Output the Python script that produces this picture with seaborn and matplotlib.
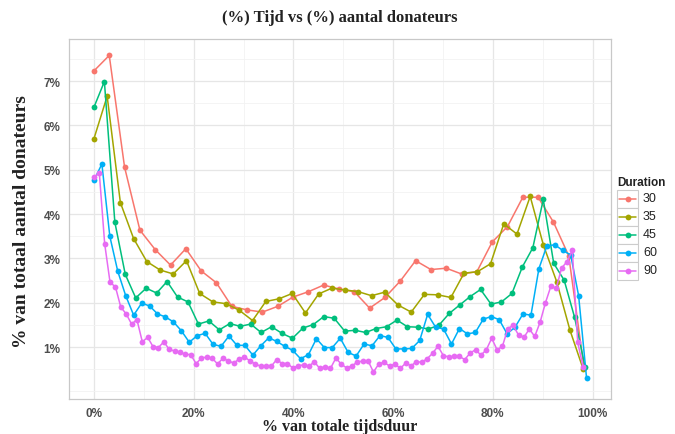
import numpy as np
import pandas as pd
import matplotlib
matplotlib.use("Agg")
import matplotlib.pyplot as plt
from matplotlib.ticker import FuncFormatter, MultipleLocator
from matplotlib.lines import Line2D
from matplotlib.patches import Rectangle
import seaborn as sns

# ---------------- data ----------------
durations = ["30", "35", "45", "60", "90"]
colors = ["#F8766D", "#A3A500", "#00BF7D", "#00B0F6", "#E76BF3"]

# last x position (% of total duration) of each series
x_end = {"30": 98.3, "35": 98.1, "45": 98.5, "60": 98.8, "90": 98.1}

pct_30 = [7.23, 7.58, 5.06, 3.64, 3.20, 2.85, 3.22, 2.72, 2.45, 1.92, 1.84,
          1.79, 1.92, 2.13, 2.25, 2.40, 2.31, 2.25, 1.88, 2.12, 2.49, 2.95,
          2.75, 2.78, 2.65, 2.70, 3.37, 3.72, 4.38, 4.38, 3.82, 3.06, 0.52]

pct_35 = [5.70, 6.66, 4.26, 3.45, 2.93, 2.74, 2.65, 2.95, 2.21, 2.02, 1.98,
          1.83, 1.60, 2.03, 2.09, 2.21, 1.77, 2.20, 2.33, 2.29, 2.25, 2.16,
          2.24, 1.95, 1.79, 2.19, 2.18, 2.12, 2.67, 2.70, 2.88, 3.78, 3.55,
          4.40, 3.30, 2.48, 1.39, 0.51]

pct_45 = [6.41, 6.99, 3.82, 2.64, 2.11, 2.33, 2.22, 2.48, 2.13, 2.02, 1.52,
          1.59, 1.39, 1.53, 1.47, 1.52, 1.33, 1.46, 1.31, 1.20, 1.43, 1.51,
          1.69, 1.65, 1.36, 1.38, 1.33, 1.42, 1.46, 1.61, 1.46, 1.45, 1.41,
          1.49, 1.76, 1.95, 2.14, 2.30, 1.97, 2.02, 2.21, 2.81, 3.24, 4.33,
          2.89, 2.51, 1.67, 0.56]

pct_60 = [4.76, 5.13, 3.50, 2.71, 2.16, 1.72, 1.99, 1.93, 1.75, 1.68, 1.57,
          1.37, 1.11, 1.26, 1.31, 1.06, 1.02, 1.25, 1.04, 1.04, 0.82, 1.03,
          1.21, 1.13, 1.02, 0.93, 0.74, 0.83, 1.19, 0.99, 0.99, 1.20, 0.88,
          0.80, 1.07, 1.03, 1.26, 1.22, 0.96, 0.96, 0.97, 1.15, 1.74, 1.45,
          1.41, 1.07, 1.42, 1.30, 1.33, 1.63, 1.69, 1.62, 1.30, 1.45, 1.75,
          1.72, 2.77, 3.28, 3.31, 3.18, 3.08, 2.16, 0.30]

pct_90 = [4.83, 4.93, 3.33, 2.46, 2.36, 1.90, 1.75, 1.52, 1.62, 1.12, 1.22,
          1.01, 0.99, 1.12, 0.95, 0.91, 0.88, 0.84, 0.83, 0.63, 0.75, 0.78,
          0.75, 0.62, 0.75, 0.69, 0.64, 0.73, 0.78, 0.69, 0.62, 0.57, 0.57,
          0.57, 0.72, 0.63, 0.63, 0.53, 0.58, 0.60, 0.57, 0.67, 0.52, 0.56,
          0.52, 0.75, 0.62, 0.53, 0.58, 0.66, 0.69, 0.69, 0.44, 0.62, 0.66,
          0.57, 0.62, 0.52, 0.64, 0.58, 0.67, 0.66, 0.74, 0.86, 1.02, 0.81,
          0.78, 0.79, 0.79, 0.72, 0.87, 0.94, 0.82, 0.94, 1.20, 0.94, 1.02,
          1.42, 1.49, 1.27, 1.22, 1.41, 1.24, 1.56, 2.00, 2.37, 2.33, 2.78,
          2.93, 3.18, 1.11, 0.55]

series = {"30": pct_30, "35": pct_35, "45": pct_45, "60": pct_60, "90": pct_90}

x_ticks = [0, 20, 40, 60, 80, 100]
y_ticks = [1, 2, 3, 4, 5, 6, 7]

title = "(%) Tijd vs (%) aantal donateurs"
xlabel = "% van totale tijdsduur"
ylabel = "% van totaal aantal donateurs"
legend_title = "Duration"

# ---------------- build table ----------------
frames = []
for d in durations:
    vals = series[d]
    frames.append(pd.DataFrame({
        "tijd": np.linspace(0, x_end[d], len(vals)),
        "pct": vals,
        "Duration": d,
    }))
df = pd.concat(frames, ignore_index=True)

# ---------------- figure ----------------
sns.set_theme(style="white")
W, H = 675, 435
fig = plt.figure(figsize=(W / 100, H / 100), dpi=100)
L, R, T, B = 69, 611, 40, 400
ax = fig.add_axes([L / W, 1 - B / H, (R - L) / W, (B - T) / H])

sns.lineplot(data=df, x="tijd", y="pct", hue="Duration", hue_order=durations,
             palette=colors, marker="o", markersize=4.2, markeredgewidth=0,
             linewidth=1.1, estimator=None, errorbar=None, legend=False, ax=ax)

ax.set_xlim(-5.0, 103.7)
ax.set_ylim(-0.17, 7.95)
ax.set_xticks(x_ticks)
ax.set_yticks(y_ticks)
ax.xaxis.set_minor_locator(MultipleLocator(10))
ax.yaxis.set_minor_locator(MultipleLocator(0.5))
ax.xaxis.set_major_formatter(FuncFormatter(lambda v, p: f"{v:.0f}%"))
ax.yaxis.set_major_formatter(FuncFormatter(lambda v, p: f"{v:.0f}%"))
ax.grid(which="major", color="#E6E6E6", linewidth=0.9)
ax.grid(which="minor", color="#F2F2F2", linewidth=0.6)
ax.set_axisbelow(True)
for s in ax.spines.values():
    s.set_color("#C8C8C8")
    s.set_linewidth(0.9)
ax.tick_params(axis="both", which="major", length=4, width=0.8,
               color="#8C8C8C", labelcolor="#4D4D4D", labelsize=8.5, pad=2)
ax.tick_params(axis="x", which="major", pad=1.5)
ax.tick_params(axis="both", which="minor", length=0)
for lab in ax.get_xticklabels() + ax.get_yticklabels():
    lab.set_fontfamily("Liberation Sans")
    lab.set_fontweight("bold")
ax.set_xlabel("")
ax.set_ylabel("")

serif = "Liberation Serif"
fig.text(340 / W, 1 - 18 / H, title, ha="center", va="center",
         fontsize=12, fontweight="bold", family=serif, color="#222222")
fig.text(340 / W, 1 - 427 / H, xlabel, ha="center", va="center",
         fontsize=11.5, fontweight="bold", family=serif, color="#222222")
fig.text(22 / W, 1 - 222 / H, ylabel, ha="center", va="center", rotation=90,
         fontsize=14, fontweight="bold", family=serif, color="#222222")

# ---------------- legend (ggplot style keys) ----------------
lax = fig.add_axes([0, 0, 1, 1], frameon=False)
lax.set_xlim(0, W)
lax.set_ylim(H, 0)
lax.axis("off")
lax.text(617, 183, legend_title, ha="left", va="center", fontsize=8.5,
         fontweight="bold", family="Liberation Sans", color="#222222")
row_y = [199.5, 217.5, 235.5, 253.5, 271.5]
for d, c, yy in zip(durations, colors, row_y):
    lax.add_patch(Rectangle((617, yy - 9), 21, 18, facecolor="white",
                            edgecolor="#CCCCCC", linewidth=0.8))
    lax.add_line(Line2D([619, 636], [yy, yy], color=c, linewidth=1.1))
    lax.add_line(Line2D([627.5], [yy], color=c, marker="o", markersize=4.2,
                        markeredgewidth=0))
    lax.text(643, yy, d, ha="left", va="center", fontsize=9,
             family="Liberation Sans", color="#222222")

fig.savefig("out.png", dpi=100)
